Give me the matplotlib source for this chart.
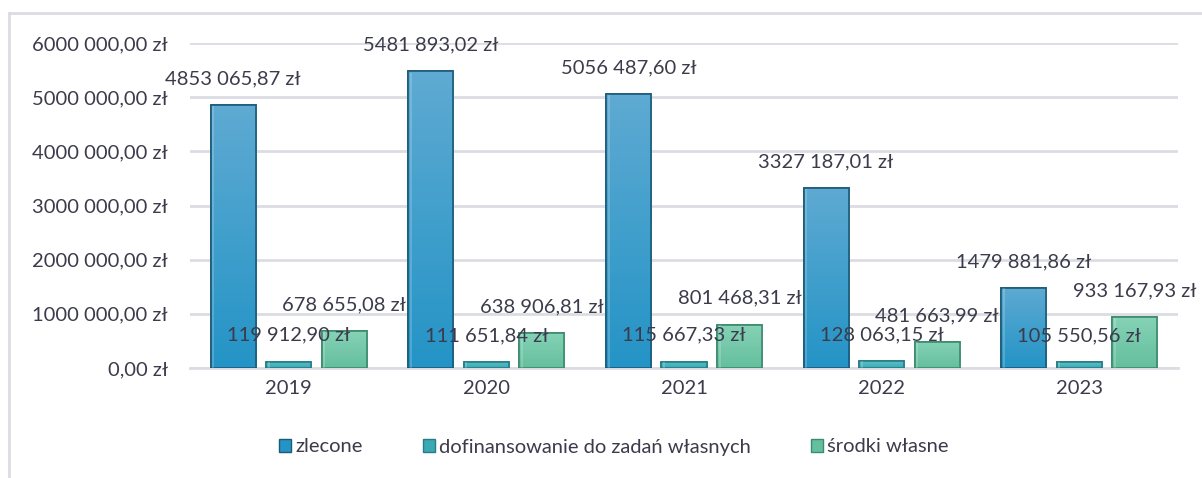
import numpy as np
import matplotlib
matplotlib.use("Agg")
import matplotlib.pyplot as plt
from matplotlib.colors import LinearSegmentedColormap
from matplotlib.lines import Line2D
from matplotlib.patches import Rectangle

plt.rcParams['font.family'] = ['Lato', 'DejaVu Sans']

years = ['2019', '2020', '2021', '2022', '2023']
series_names = ['zlecone', 'dofinansowanie do zadań własnych', 'środki własne']
zlecone = [4853065.87, 5481893.02, 5056487.60, 3327187.01, 1479881.86]
dofinansowanie = [119912.90, 111651.84, 115667.33, 128063.15, 105550.56]
srodki_wlasne = [678655.08, 638906.81, 801468.31, 481663.99, 933167.93]
y_ticks = [0, 1000000, 2000000, 3000000, 4000000, 5000000, 6000000]

# gradient (top, bottom) and edge colour for each series
grad = [('#5eaad2', '#2494c6'), ('#5cc0c8', '#3aa9b4'), ('#86d2b6', '#64bf9e')]
edges = ['#1d5a78', '#277d86', '#3d8a6e']
text_color = '#3b3b4b'
grid_color = '#dcdce3'
fs = 14.5


def fmt_pln(v):
    whole = int(round(v * 100)) // 100
    cents = int(round(v * 100)) % 100
    if whole >= 1000:
        s = f"{whole // 1000} {whole % 1000:03d}"
    else:
        s = f"{whole}"
    return f"{s},{cents:02d} zł"


fig = plt.figure(figsize=(12.02, 4.78), dpi=100)
ax = fig.add_axes([190 / 1202, 110 / 478, 988 / 1202, 325 / 478])

x = np.arange(len(years))
step = 0.281
width = 0.228
data = [zlecone, dofinansowanie, srodki_wlasne]

for i, vals in enumerate(data):
    pos = x + (i - 1) * step
    bars = ax.bar(pos, vals, width=width, color=grad[i][1], edgecolor=edges[i],
                  linewidth=1.2, zorder=3)
    cmap = LinearSegmentedColormap.from_list(f'g{i}', [grad[i][1], grad[i][0]])
    for b in bars:
        im = ax.imshow(np.linspace(0, 1, 64).reshape(-1, 1), cmap=cmap,
                       extent=[b.get_x(), b.get_x() + b.get_width(), 0, b.get_height()],
                       origin='lower', aspect='auto', zorder=3.1)
        im.set_clip_path(b)
        ax.add_patch(Rectangle((b.get_x(), 0), b.get_width(), b.get_height(),
                               fill=False, edgecolor=edges[i], linewidth=1.2, zorder=3.2))
        # light bevel on the left side
        ax.add_patch(Rectangle((b.get_x() + 0.008, 0), 0.01, b.get_height() * 0.995,
                               facecolor='white', alpha=0.18, linewidth=0, zorder=3.3))
    for px, v in zip(pos, vals):
        ax.annotate(fmt_pln(v), xy=(px, v), xytext=(0, 19), textcoords='offset points',
                    ha='center', va='center', fontsize=fs, color=text_color, zorder=5)

ax.set_aspect('auto')
ax.set_xlim(-0.5, len(years) - 0.5)
ax.set_ylim(0, 6000000)

ax.set_yticks(y_ticks)
ax.set_yticklabels([fmt_pln(v) for v in y_ticks])
ax.set_xticks(x)
ax.set_xticklabels(years)
ax.tick_params(axis='both', length=0, labelsize=fs, colors=text_color)
ax.tick_params(axis='y', pad=16)
ax.tick_params(axis='x', pad=9)
ax.grid(axis='y', color=grid_color, linewidth=2, zorder=0)
for s in ['left', 'right', 'top']:
    ax.spines[s].set_visible(False)
ax.spines['bottom'].set_color(grid_color)
ax.spines['bottom'].set_linewidth(2)

handles = [Rectangle((0, 0), 1, 1, facecolor=grad[i][1], edgecolor=edges[i], linewidth=1)
           for i in range(3)]
fig.legend(handles, series_names, loc='center', bbox_to_anchor=(614 / 1202, 1 - 447 / 478),
           ncol=3, frameon=False, fontsize=fs, labelcolor=text_color,
           handlelength=0.6, handleheight=0.6, handletextpad=0.2, columnspacing=3.0)

# outer frame of the chart area
fig.add_artist(Line2D([9 / 1202, 9 / 1202], [0, 1 - 13 / 478], transform=fig.transFigure,
                      color=grid_color, linewidth=2))
fig.add_artist(Line2D([9 / 1202, 1], [1 - 13 / 478, 1 - 13 / 478], transform=fig.transFigure,
                      color=grid_color, linewidth=2))

fig.savefig('out.png', dpi=100, facecolor='white')
